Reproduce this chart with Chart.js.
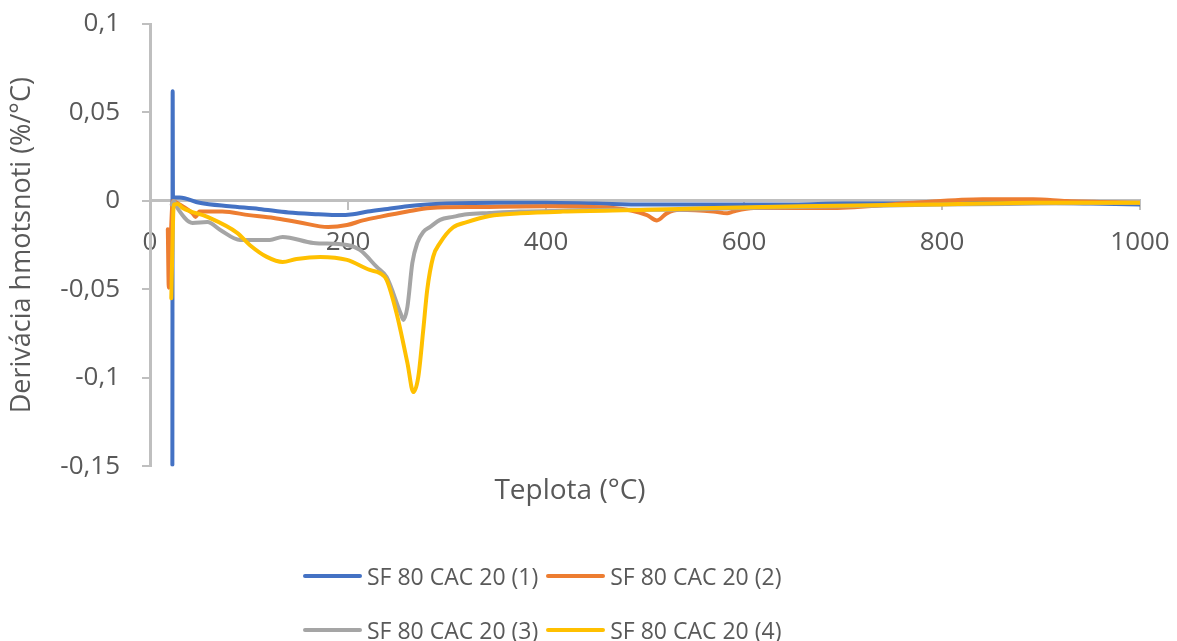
<!DOCTYPE html>
<html>
<head>
<meta charset="utf-8">
<script src="https://cdn.jsdelivr.net/npm/chart.js@4/dist/chart.umd.min.js"></script>
<style>
  html, body { margin: 0; padding: 0; background: #fff; }
  #wrap { position: relative; width: 1177px; height: 641px; }
  #legend {
    position: absolute; left: 303px; top: 561px;
    display: grid; grid-template-columns: auto auto;
    column-gap: 8px; row-gap: 24px;
    font-family: "Open Sans", sans-serif; font-size: 23px; color: #595959;
  }
  .item { display: flex; align-items: center; height: 30px; white-space: nowrap; }
  .swatch { width: 59px; height: 4px; border-radius: 2px; margin-right: 5px; }
</style>
</head>
<body>
<div id="wrap">
  <canvas id="chart" width="1177" height="641"></canvas>
  <div id="legend"></div>
</div>
<script>
// DTG derivative curves
const seriesNames = ["SF 80 CAC 20 (1)", "SF 80 CAC 20 (2)", "SF 80 CAC 20 (3)", "SF 80 CAC 20 (4)"];
const seriesColors = ["#4472C4", "#ED7D31", "#A5A5A5", "#FFC000"];

const temps1 = [22.6, 22.9, 23.2, 24.5, 30, 50, 80, 110, 140, 170, 190, 205, 220, 240, 260, 280, 300, 350, 400, 450, 500, 550, 600, 650, 700, 750, 800, 850, 900, 950, 1000];
const dtg1 = [-0.149, 0.062, 0.002, 0.002, 0.002, -0.001, -0.003, -0.0045, -0.0065, -0.0075, -0.008, -0.0075, -0.006, -0.0045, -0.003, -0.002, -0.0015, -0.001, -0.001, -0.0015, -0.002, -0.002, -0.002, -0.002, -0.0015, -0.0015, -0.0015, -0.001, -0.001, -0.0015, -0.002];

const temps2 = [18, 19, 21, 23, 30, 43, 46, 50, 73, 100, 125, 150, 180, 199, 215, 232, 260, 283, 333, 401, 468, 502, 512, 522, 535, 569, 583, 589, 610, 690, 771, 841, 892, 926, 1000];
const dtg2 = [-0.016, -0.049, -0.02, 0.0, -0.002, -0.007, -0.009, -0.006, -0.006, -0.008, -0.0096, -0.012, -0.0147, -0.0136, -0.011, -0.009, -0.006, -0.004, -0.0034, -0.003, -0.004, -0.008, -0.011, -0.007, -0.005, -0.006, -0.007, -0.006, -0.004, -0.004, -0.001, 0.001, 0.001, 0.0, -0.001];

const temps3 = [22, 24, 27, 43, 58, 71, 91, 108, 121, 134, 165, 199, 212, 229, 239, 253, 256, 260, 265, 270, 276, 283, 293, 306, 320, 343, 374, 417, 470, 530, 600, 700, 800, 900, 1000];
const dtg3 = [-0.002, 0.0, -0.0034, -0.0124, -0.0119, -0.0164, -0.022, -0.022, -0.022, -0.0203, -0.0237, -0.0249, -0.0277, -0.0373, -0.043, -0.0633, -0.0672, -0.0599, -0.035, -0.0237, -0.0175, -0.0147, -0.0107, -0.009, -0.0075, -0.0068, -0.006, -0.0055, -0.005, -0.005, -0.004, -0.003, -0.002, -0.0015, -0.001];

const temps4 = [21.5, 22.5, 24, 28, 33, 58, 88, 101, 118, 134, 148, 172, 199, 222, 232, 239, 249, 260, 266, 271, 276, 280, 286, 293, 306, 320, 343, 374, 417, 502, 569, 657, 791, 892, 1000];
const dtg4 = [-0.055, -0.03, -0.002, -0.0017, -0.004, -0.009, -0.018, -0.025, -0.0316, -0.0345, -0.0328, -0.0316, -0.0333, -0.039, -0.0407, -0.0446, -0.0633, -0.0915, -0.108, -0.0994, -0.073, -0.0503, -0.0316, -0.0237, -0.015, -0.012, -0.0085, -0.007, -0.006, -0.005, -0.004, -0.003, -0.002, -0.001, -0.001];

const xTicks = [0, 200, 400, 600, 800, 1000];
const yTicks = [-0.15, -0.1, -0.05, 0, 0.05, 0.1];

const temps = [temps1, temps2, temps3, temps4];
const dtgs = [dtg1, dtg2, dtg3, dtg4];

const textColor = "#595959";
const axisColor = "#BFBFBF";
const font = "'Open Sans', sans-serif";

const datasets = seriesNames.map((name, i) => ({
  label: name,
  data: temps[i].map((t, j) => ({ x: t, y: dtgs[i][j] })),
  borderColor: seriesColors[i],
  backgroundColor: seriesColors[i],
  borderWidth: 4,
  borderCapStyle: "round",
  borderJoinStyle: "round",
  pointRadius: 0,
  cubicInterpolationMode: "monotone",
  order: seriesNames.length - i,
}));

const chart = new Chart(document.getElementById("chart").getContext("2d"), {
  type: "line",
  data: { datasets },
  options: {
    responsive: false,
    animation: false,
    layout: { padding: { left: 0, right: 37, top: 24, bottom: 133 } },
    scales: {
      x: {
        type: "linear",
        position: { y: 0 },
        min: 0,
        max: 1000,
        afterBuildTicks: (s) => { s.ticks = xTicks.map((v) => ({ value: v })); },
        // labels may hang past the plot edges, like in the original
        afterFit: (s) => { s.paddingLeft = 0; s.paddingRight = 0; },
        ticks: {
          color: textColor,
          font: { family: font, size: 26 },
          padding: 18,
          maxRotation: 0,
          callback: (v) => String(v),
        },
        grid: { drawOnChartArea: false, tickLength: 8, color: axisColor, lineWidth: 2 },
        border: { color: axisColor, width: 3 },
      },
      y: {
        min: -0.15,
        max: 0.1,
        afterBuildTicks: (s) => { s.ticks = yTicks.map((v) => ({ value: v })); },
        afterFit: (s) => { s.width = 150; s.paddingTop = 0; s.paddingBottom = 0; },
        ticks: {
          color: textColor,
          font: { family: font, size: 26 },
          padding: 22,
          callback: (v) => String(Number(v.toFixed(2))).replace(".", ","),
        },
        grid: { drawOnChartArea: false, tickLength: 8, color: axisColor, lineWidth: 2 },
        border: { color: axisColor, width: 3 },
        title: {
          display: true,
          text: "Derivácia hmotsnoti (%/°C)",
          color: textColor,
          font: { family: font, size: 27 },
          padding: { top: 6, bottom: 0 },
        },
      },
    },
    plugins: {
      legend: { display: false },
      tooltip: { enabled: false },
      title: {
        display: true,
        position: "bottom",
        text: "Teplota (°C)",
        color: textColor,
        font: { family: font, size: 28, weight: "normal" },
        padding: { top: 8, bottom: 0 },
      },
    },
  },
});

// two-column legend like the original
const legendEl = document.getElementById("legend");
chart.data.datasets.forEach((ds) => {
  const item = document.createElement("div");
  item.className = "item";
  const sw = document.createElement("span");
  sw.className = "swatch";
  sw.style.background = ds.borderColor;
  const label = document.createElement("span");
  label.textContent = ds.label;
  item.appendChild(sw);
  item.appendChild(label);
  legendEl.appendChild(item);
});
</script>
</body>
</html>
